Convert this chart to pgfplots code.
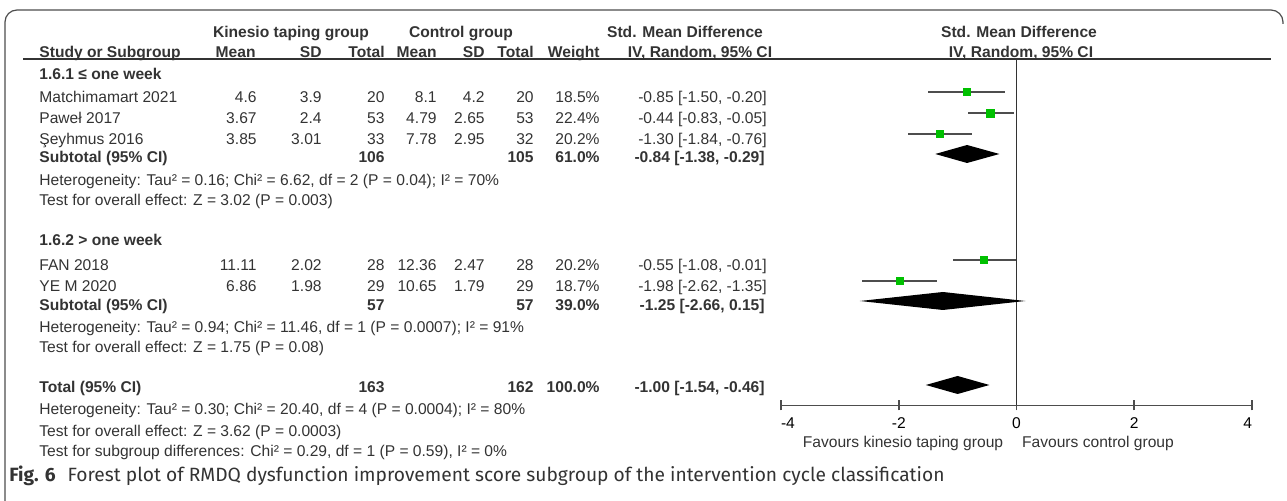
\documentclass[border=0pt]{standalone}
\usepackage{pgfplots}
\pgfplotsset{compat=1.18}
\usepackage{fontspec}
\setmainfont{Liberation Sans}
\newfontfamily\capfont{Fira Sans}
\definecolor{txt}{HTML}{333333}
\definecolor{grn}{HTML}{00C000}
\definecolor{ci}{HTML}{4D4D4D}
% text helpers, coordinates in reference pixels (y downwards), baseline y
\newcommand{\Rt}[3]{\node[anchor=base east,inner sep=0pt] at (#1,#2) {#3};}
\newcommand{\Lt}[3]{\node[anchor=base west,inner sep=0pt] at (#1,#2) {#3};}
\newcommand{\Ct}[3]{\node[anchor=base,inner sep=0pt] at (#1,#2) {#3};}
\newcommand{\study}[9]{%
  \Lt{39}{#1}{#2}\Rt{257}{#1}{#3}\Rt{322}{#1}{#4}\Rt{385}{#1}{#5}%
  \Rt{437}{#1}{#6}\Rt{485}{#1}{#7}\Rt{534}{#1}{#8}\Rt{600}{#1}{#9}}
\begin{document}
\begin{tikzpicture}
\begin{scope}[x=0.5pt,y=-0.5pt,font=\fontsize{7.8}{9}\selectfont,text=txt]
\useasboundingbox (0,0) rectangle (1287,501);
\draw[ci,line width=0.6pt,rounded corners=6pt] (5,501) -- (5,10) -- (1283,10) -- (1283,24);
\draw[txt,line width=0.6pt] (23,59) -- (1271,59);
% headers
\Ct{291}{37.5}{\bfseries Kinesio taping group}
\Ct{461}{37.5}{\bfseries Control group}
\Ct{685}{37.5}{\bfseries Std. Mean Difference}
\Ct{1019}{37.5}{\bfseries Std. Mean Difference}
\Lt{39}{57.5}{\bfseries Study or Subgroup}
\Rt{256}{57.5}{\bfseries Mean}
\Rt{322}{57.5}{\bfseries SD}
\Rt{385}{57.5}{\bfseries Total}
\Rt{437}{57.5}{\bfseries Mean}
\Rt{485}{57.5}{\bfseries SD}
\Rt{534}{57.5}{\bfseries Total}
\Rt{600}{57.5}{\bfseries Weight}
\Ct{700}{57.5}{\bfseries IV, Random, 95\% CI}
\Ct{1021}{57.5}{\bfseries IV, Random, 95\% CI}
% subgroup 1
\Lt{39}{79.5}{\bfseries 1.6.1 ≤ one week}
\study{102.5}{Matchimamart 2021}{4.6}{3.9}{20}{8.1}{4.2}{20}{18.5\%}
\Rt{767}{102.5}{-0.85 [-1.50, -0.20]}
\study{123.5}{Paweł 2017}{3.67}{2.4}{53}{4.79}{2.65}{53}{22.4\%}
\Rt{767}{123.5}{-0.44 [-0.83, -0.05]}
\study{144.5}{Şeyhmus 2016}{3.85}{3.01}{33}{7.78}{2.95}{32}{20.2\%}
\Rt{767}{144.5}{-1.30 [-1.84, -0.76]}
\Lt{39}{162.5}{\bfseries Subtotal (95\% CI)}
\Rt{385}{162.5}{\bfseries 106}\Rt{534}{162.5}{\bfseries 105}\Rt{600}{162.5}{\bfseries 61.0\%}
\Rt{765}{162.5}{\bfseries -0.84 [-1.38, -0.29]}
\Lt{39}{185.5}{Heterogeneity: Tau² = 0.16; Chi² = 6.62, df = 2 (P = 0.04); I² = 70\%}
\Lt{39}{205.5}{Test for overall effect: Z = 3.02 (P = 0.003)}
% subgroup 2
\Lt{39}{246}{\bfseries 1.6.2 > one week}
\study{270.5}{FAN 2018}{11.11}{2.02}{28}{12.36}{2.47}{28}{20.2\%}
\Rt{767}{270.5}{-0.55 [-1.08, -0.01]}
\study{291.5}{YE M 2020}{6.86}{1.98}{29}{10.65}{1.79}{29}{18.7\%}
\Rt{767}{291.5}{-1.98 [-2.62, -1.35]}
\Lt{39}{310.5}{\bfseries Subtotal (95\% CI)}
\Rt{385}{310.5}{\bfseries 57}\Rt{534}{310.5}{\bfseries 57}\Rt{600}{310.5}{\bfseries 39.0\%}
\Rt{765}{310.5}{\bfseries -1.25 [-2.66, 0.15]}
\Lt{39}{332.5}{Heterogeneity: Tau² = 0.94; Chi² = 11.46, df = 1 (P = 0.0007); I² = 91\%}
\Lt{39}{352.5}{Test for overall effect: Z = 1.75 (P = 0.08)}
% total
\Lt{39}{392.5}{\bfseries Total (95\% CI)}
\Rt{385}{392.5}{\bfseries 163}\Rt{534}{392.5}{\bfseries 162}\Rt{600}{392.5}{\bfseries 100.0\%}
\Rt{765}{392.5}{\bfseries -1.00 [-1.54, -0.46]}
\Lt{39}{415}{Heterogeneity: Tau² = 0.30; Chi² = 20.40, df = 4 (P = 0.0004); I² = 80\%}
\Lt{39}{436.5}{Test for overall effect: Z = 3.62 (P = 0.0003)}
\Lt{39}{456.5}{Test for subgroup differences: Chi² = 0.29, df = 1 (P = 0.59), I² = 0\%}
% favours
\Ct{903}{447.5}{Favours kinesio taping group}
\Ct{1098}{447.5}{Favours control group}
% caption
\node[anchor=base west,inner sep=0pt,font=\capfont\fontsize{9.6}{11}\selectfont,text=txt]
  at (9,481.5) {{\bfseries Fig. 6}\hspace{6pt}Forest plot of RMDQ dysfunction improvement score subgroup of the intervention cycle classification};
\end{scope}
\begin{axis}[
  at={(390.5pt,-202.75pt)}, anchor=south west,
  scale only axis, width=235.5pt, height=173.25pt,
  xmin=-4, xmax=4, ymin=-405.5, ymax=-59,
  axis x line*=bottom, axis y line=none,
  clip=false,
  xtick={-4,-2,0,2,4},
  xticklabels={\makebox[0pt][l]{-4},-2,0,2,\makebox[0pt][r]{4}},
  tick align=center, major tick length=5pt,
  every tick/.style={draw=ci,line width=0.8pt},
  axis line style={draw=ci,line width=0.9pt},
  ticklabel style={font=\fontsize{7.8}{9}\selectfont,text=black},
]
% line of no effect
\addplot[txt,line width=0.8pt] coordinates {(0,-405.5) (0,-59)};
% studies: estimate with 95% CI
\addplot[only marks,mark=square*,mark size=1.75pt,mark options={fill=grn,draw=grn},
  error bars/.cd,x dir=both,x explicit,error mark=none,error bar style={ci,line width=0.9pt}]
  coordinates {(-0.85,-92) -= (0.65,0) += (0.65,0)};
\addplot[only marks,mark=square*,mark size=2pt,mark options={fill=grn,draw=grn},
  error bars/.cd,x dir=both,x explicit,error mark=none,error bar style={ci,line width=0.9pt}]
  coordinates {(-0.44,-113) -= (0.39,0) += (0.39,0)};
\addplot[only marks,mark=square*,mark size=1.85pt,mark options={fill=grn,draw=grn},
  error bars/.cd,x dir=both,x explicit,error mark=none,error bar style={ci,line width=0.9pt}]
  coordinates {(-1.30,-134) -= (0.54,0) += (0.54,0)};
\addplot[only marks,mark=square*,mark size=1.85pt,mark options={fill=grn,draw=grn},
  error bars/.cd,x dir=both,x explicit,error mark=none,error bar style={ci,line width=0.9pt}]
  coordinates {(-0.55,-260) -= (0.53,0) += (0.54,0)};
\addplot[only marks,mark=square*,mark size=1.75pt,mark options={fill=grn,draw=grn},
  error bars/.cd,x dir=both,x explicit,error mark=none,error bar style={ci,line width=0.9pt}]
  coordinates {(-1.98,-281) -= (0.64,0) += (0.63,0)};
% pooled estimates
\addplot[fill=black,draw=none] coordinates {(-1.38,-154) (-0.84,-145) (-0.29,-154) (-0.84,-163)};
\addplot[fill=black,draw=none] coordinates {(-2.66,-301) (-1.25,-292) (0.15,-301) (-1.25,-310)};
\addplot[fill=black,draw=none] coordinates {(-1.54,-385) (-1.00,-376) (-0.46,-385) (-1.00,-394)};
\end{axis}
\end{tikzpicture}
\end{document}
